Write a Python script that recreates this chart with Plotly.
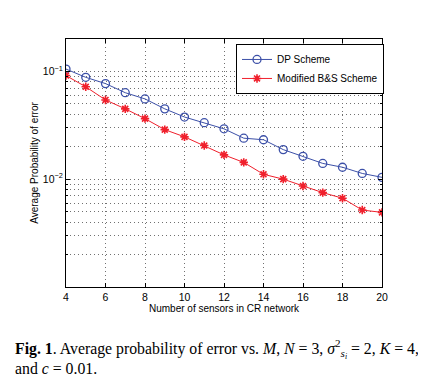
import plotly.graph_objects as go

sensors = list(range(4, 21))
dp_scheme = [0.105, 0.088, 0.077, 0.0634, 0.0555, 0.0449, 0.0377, 0.0334, 0.0293,
             0.0240, 0.0232, 0.0188, 0.0163, 0.0140, 0.0129, 0.0113, 0.0104]
mod_bs = [0.0914, 0.0719, 0.0543, 0.0449, 0.0364, 0.0288, 0.0247, 0.0205, 0.0168,
          0.0143, 0.0111, 0.0100, 0.00863, 0.00750, 0.00666, 0.00517, 0.00492]
x_ticks = [4, 6, 8, 10, 12, 14, 16, 18, 20]
y_ticks = [0.01, 0.1]
y_ticktext = ["10<sup>−2</sup>", "10<sup>−1</sup>"]
y_minor = [k * 10 ** e for e in (-3, -2, -1) for k in range(2, 10) if k * 10 ** e <= 0.2]

blue = "#3c50a8"
red = "#f0202c"

fig = go.Figure()
fig.add_trace(go.Scatter(
    x=sensors, y=dp_scheme, name="DP Scheme", mode="lines+markers",
    line=dict(color=blue, width=1),
    marker=dict(symbol="circle-open", size=8, color=blue, line=dict(width=1.3)),
))
fig.add_trace(go.Scatter(
    x=sensors, y=mod_bs, name="Modified B&S Scheme", mode="lines+markers",
    line=dict(color=red, width=1),
    marker=dict(symbol="asterisk-open", size=7, color=red, line=dict(width=1.6, color=red)),
))

dots = "1px,3px"
grid = dict(showgrid=True, gridcolor="#707070", griddash=dots, gridwidth=1)
fig.update_xaxes(
    range=[4, 20], tickvals=x_ticks, ticks="inside", ticklen=4, tickcolor="black",
    showline=True, linecolor="black", linewidth=1, mirror="allticks",
    zeroline=False, automargin=False,
    title=dict(text="Number of sensors in CR network", standoff=0, font=dict(size=10)),
    tickfont=dict(size=10.5), **grid,
)
fig.update_yaxes(
    type="log", range=[-3, -0.7], tickvals=y_ticks, ticktext=y_ticktext,
    ticks="inside", ticklen=4, tickcolor="black",
    showline=True, linecolor="black", linewidth=1, mirror="allticks",
    automargin=False,
    title=dict(text="Average Probability of error", standoff=2, font=dict(size=10)),
    tickfont=dict(size=10.5),
    minor=dict(tickvals=y_minor, showgrid=True, gridcolor="#707070", griddash=dots,
               ticks="inside", ticklen=2, tickcolor="black"),
    **grid,
)

fig.add_annotation(
    xref="paper", yref="paper", x=-0.168, y=-0.248, xanchor="left", yanchor="middle",
    showarrow=False, align="left",
    text="<b>Fig. 1</b>. Average probability of error vs. <i>M</i>, <i>N</i> = 3, "
         "<i>σ</i><sup>2</sup><sub><i>s<sub>i</sub></i></sub> = 2, <i>K</i> = 4,",
    font=dict(family="Liberation Serif", size=15.8, color="black"),
)
fig.add_annotation(
    xref="paper", yref="paper", x=-0.168, y=-0.33, xanchor="left", yanchor="middle",
    showarrow=False, align="left",
    text="and <i>c</i> = 0.01.",
    font=dict(family="Liberation Serif", size=15.8, color="black"),
)

fig.update_layout(
    width=426, height=390,
    margin=dict(l=58, r=52, t=31, b=111),
    paper_bgcolor="white", plot_bgcolor="white",
    font=dict(family="Liberation Sans", size=10, color="black"),
    legend=dict(x=0.538, y=0.98, xanchor="left", yanchor="top",
                bgcolor="white", bordercolor="black", borderwidth=1,
                font=dict(size=10), tracegroupgap=0, itemwidth=30),
    showlegend=True,
)

fig.write_html("out.html")
